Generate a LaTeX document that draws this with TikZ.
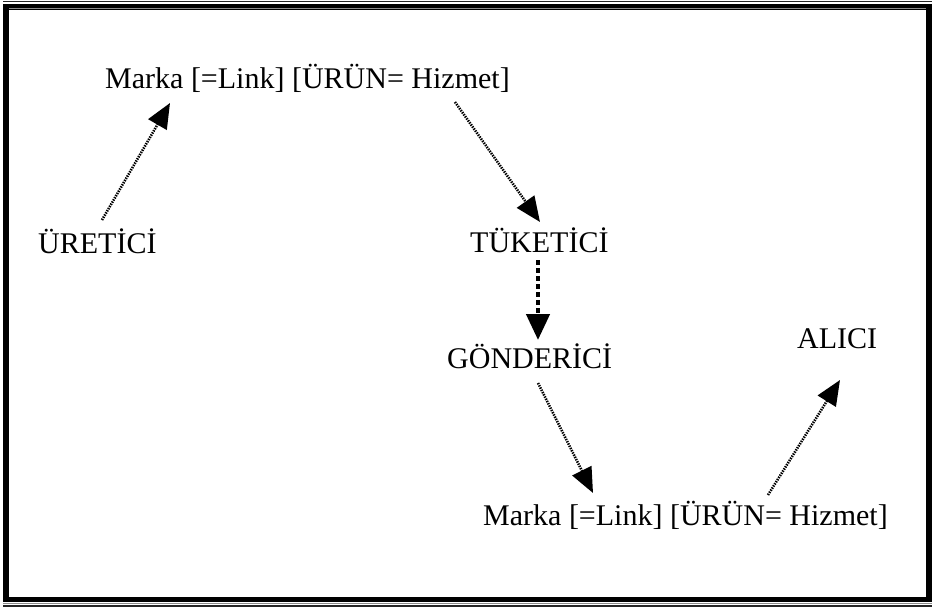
\documentclass[tikz,border=0pt]{standalone}
\usepackage{fontspec}
\setmainfont{Liberation Serif}
\usetikzlibrary{arrows.meta,calc}
\begin{document}
\begin{tikzpicture}[x=1pt,y=-1pt,
  lbl/.style={anchor=base west,inner sep=0pt,font=\fontsize{30}{36}\selectfont},
  dotarrow/.style={line width=2.6pt,dash pattern=on 1.4pt off 1.1pt,
    -{Triangle[length=25pt,width=21pt]}},
  dasharrow/.style={line width=4.5pt,dash pattern=on 5pt off 3pt,
    -{Triangle[length=26pt,width=23pt]}}]
\useasboundingbox (0,0) rectangle (934,608);
% frame
\fill[white] (0,0) rectangle (934,608);
\fill[black] (3,3.5) rectangle (932,602);
\fill[white] (9,10) rectangle (926,597);
\draw[line width=1.2pt,black!85] (3,1.5) -- (932,1.5);
\draw[line width=1.2pt,black!45] (9,8.5) -- (926,8.5);
\draw[line width=1.2pt,black!45] (3,603.2) -- (932,603.2);
\draw[line width=1.5pt,black!85] (3,605.8) -- (932,605.8);
% labels
\node[lbl] (marka1) at (105,88) {Marka [=Link] [ÜRÜN= Hizmet]};
\node[lbl] (uretici) at (38,253) {ÜRETİCİ};
\node[lbl] (tuketici) at (470,252) {TÜKETİCİ};
\node[lbl] (gonderici) at (447,368) {GÖNDERİCİ};
\node[lbl] (alici) at (797,348) {ALICI};
\node[lbl] (marka2) at (483,525) {Marka [=Link] [ÜRÜN= Hizmet]};
% connectors
\draw[dotarrow] ($(uretici.base west)+(64,-33)$) -- ($(marka1.base west)+(65,15)$);
\draw[dotarrow] ($(marka1.base west)+(350,14)$) -- ($(tuketici.base west)+(70,-30)$);
\draw[dasharrow] ($(tuketici.base west)+(68,8)$) -- ($(gonderici.base west)+(91,-28)$);
\draw[dotarrow] ($(gonderici.base west)+(91,15)$) -- ($(marka2.base west)+(110,-32)$);
\draw[dotarrow] ($(marka2.base west)+(285,-30)$) -- ($(alici.base west)+(43,32)$);
\end{tikzpicture}
\end{document}
